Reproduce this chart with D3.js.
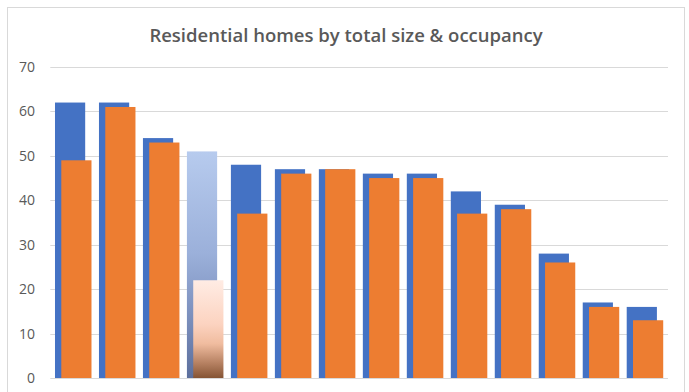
<!DOCTYPE html>
<html>
<head>
<meta charset="utf-8">
<script src="https://cdn.jsdelivr.net/npm/d3@7"></script>
<style>
  html, body { margin: 0; padding: 0; background: #ffffff; }
  svg { display: block; }
</style>
</head>
<body>
<div id="chart"></div>
<script>
// Residential homes: total size vs. occupancy, per building
const categories = ["1","2","3","4","5","6","7","8","9","10","11","12","13","14"];
const totalSize = [62, 62, 54, 51, 48, 47, 47, 46, 46, 42, 39, 28, 17, 16];
const occupancy = [49, 61, 53, 22, 37, 46, 47, 45, 45, 37, 38, 26, 16, 13];
const yTicks = [0, 10, 20, 30, 40, 50, 60, 70];
const highlightIndex = 3; // building drawn with gradient fills

const W = 689, H = 392;
const plot = { left: 51.3, right: 667, top: 67, bottom: 378 };

const svg = d3.select("#chart").append("svg")
  .attr("width", W).attr("height", H);

// chart frame
svg.append("rect")
  .attr("x", 7.5).attr("y", 7.5)
  .attr("width", 677).attr("height", 400)
  .attr("fill", "#ffffff").attr("stroke", "#d9d9d9").attr("stroke-width", 1);

const defs = svg.append("defs");
const gBlue = defs.append("linearGradient").attr("id", "gradBlue")
  .attr("x1", 0).attr("y1", 0).attr("x2", 0).attr("y2", 1);
[[0, "#b7cbee"], [0.45, "#9bb0da"], [0.8, "#7487b5"], [1, "#5c6f9c"]].forEach(([o, c]) =>
  gBlue.append("stop").attr("offset", o).attr("stop-color", c));
const gOrange = defs.append("linearGradient").attr("id", "gradOrange")
  .attr("x1", 0).attr("y1", 0).attr("x2", 0).attr("y2", 1);
[[0, "#ffece4"], [0.45, "#fcd3c0"], [0.65, "#f0bc9f"], [0.85, "#b58061"], [1, "#855434"]].forEach(([o, c]) =>
  gOrange.append("stop").attr("offset", o).attr("stop-color", c));

const x = d3.scaleBand().domain(categories).range([plot.left, plot.right]).padding(0);
const y = d3.scaleLinear().domain([0, 70]).range([plot.bottom, plot.top]);

// gridlines
svg.append("g").selectAll("line").data(yTicks).join("line")
  .attr("x1", plot.left - 1).attr("x2", plot.right + 1)
  .attr("y1", d => Math.round(y(d)) + 0.5).attr("y2", d => Math.round(y(d)) + 0.5)
  .attr("stroke", "#d9d9d9").attr("stroke-width", 1);

// y-axis labels
const yAxis = d3.axisLeft(y).tickValues(yTicks).tickSize(0).tickPadding(0);
const ya = svg.append("g").attr("transform", `translate(35,0)`).call(yAxis);
ya.select(".domain").remove();
ya.selectAll("text")
  .attr("fill", "#595959")
  .style("font-family", "'Open Sans', 'Liberation Sans', sans-serif")
  .style("font-size", "14px");

const barW = 30.2;
const center = d => x(d) + x.bandwidth() / 2;

// total size bars
svg.append("g").selectAll("rect").data(categories).join("rect")
  .attr("x", d => center(d) - 18.3)
  .attr("y", (d, i) => y(totalSize[i]))
  .attr("width", barW)
  .attr("height", (d, i) => y(0) - y(totalSize[i]))
  .attr("fill", (d, i) => i === highlightIndex ? "url(#gradBlue)" : "#4472c4");

// occupancy bars
svg.append("g").selectAll("rect").data(categories).join("rect")
  .attr("x", d => center(d) - 12)
  .attr("y", (d, i) => y(occupancy[i]))
  .attr("width", barW)
  .attr("height", (d, i) => y(0) - y(occupancy[i]))
  .attr("fill", (d, i) => i === highlightIndex ? "url(#gradOrange)" : "#ed7d31");

// title
svg.append("text")
  .attr("x", 346).attr("y", 42)
  .attr("text-anchor", "middle")
  .attr("fill", "#595959")
  .style("font-family", "'Open Sans', 'Liberation Sans', sans-serif")
  .style("font-weight", 600)
  .style("font-size", "18.5px")
  .text("Residential homes by total size & occupancy");
</script>
</body>
</html>
